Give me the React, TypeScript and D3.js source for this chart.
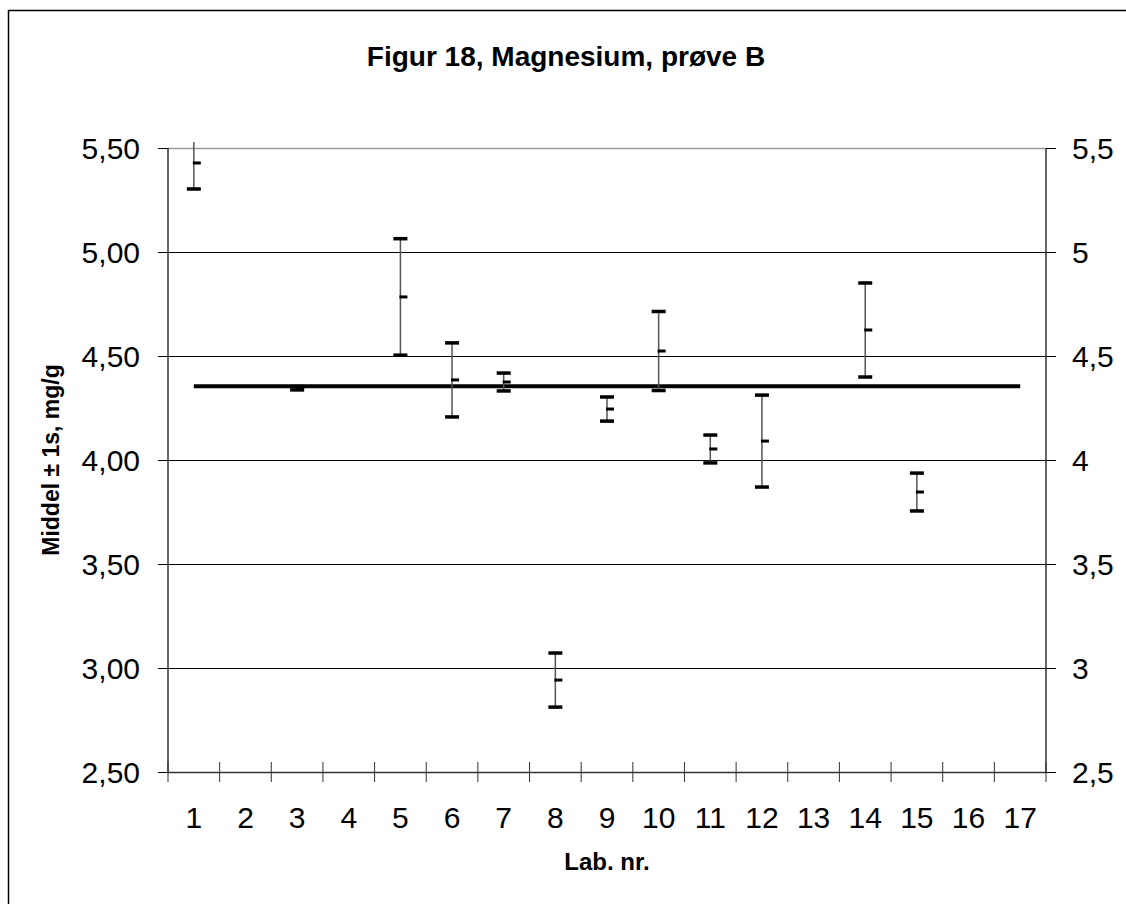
import React from "react";
import * as d3 from "d3";

const categories = ["1","2","3","4","5","6","7","8","9","10","11","12","13","14","15","16","17"];
const labs = ["1","3","5","6","7","8","9","10","11","12","14","15"];
const means = [5.428, 4.345, 4.784, 4.385, 4.375, 2.942, 4.245, 4.524, 4.053, 4.091, 4.625, 3.846];
const sds = [0.125, 0.008, 0.28, 0.178, 0.043, 0.13, 0.058, 0.19, 0.067, 0.221, 0.226, 0.091];
const refValue = 4.355;
const leftTicks = [2.5, 3.0, 3.5, 4.0, 4.5, 5.0, 5.5];

const FONT = "Arial, 'Liberation Sans', sans-serif";

export default function App() {
  const W = 1126, H = 904;
  const x0 = 168, x1 = 1046, yTop = 148, yBot = 772;
  const x = d3.scaleBand<string>().domain(categories).range([x0, x1]).padding(0);
  const y = d3.scaleLinear().domain([2.5, 5.5]).range([yBot, yTop]);
  const cx = (c: string) => (x(c) as number) + x.bandwidth() / 2;
  const cy = (v: number) => Math.round(y(v)) + 0.5;
  const fmtL = (v: number) => v.toFixed(2).replace(".", ",");
  const fmtR = (v: number) => String(v).replace(".", ",");
  const line = d3.line<string>().x((c) => cx(c)).y(() => y(refValue));

  return (
    <svg width={W} height={H} style={{ position: "absolute", left: 0, top: 0 }} fontFamily={FONT}>
      <defs>
        <clipPath id="plotclip">
          <rect x={x0} y={yTop - 6} width={x1 - x0} height={yBot - yTop + 6} />
        </clipPath>
      </defs>
      <rect x={0} y={0} width={W} height={H} fill="white" />
      <rect x={8.5} y={10.5} width={1300} height={1000} fill="white" stroke="black" strokeWidth={1.5} />
      <text x={566} y={66} textAnchor="middle" fontSize={28} fontWeight="bold">Figur 18, Magnesium, prøve B</text>

      {/* gridlines */}
      {leftTicks.filter((t) => t > 2.5 && t < 5.5).map((t) => (
        <line key={"g" + t} x1={x0} x2={x1} y1={cy(t)} y2={cy(t)} stroke="black" strokeWidth={1} />
      ))}
      <line x1={x0} x2={x1} y1={cy(5.5)} y2={cy(5.5)} stroke="#999" strokeWidth={1.5} />

      {/* left axis */}
      <line x1={x0} x2={x0} y1={yTop} y2={yBot} stroke="#333" strokeWidth={1.5} />
      {leftTicks.map((t) => (
        <g key={"l" + t}>
          <line x1={x0 - 10} x2={x0} y1={cy(t)} y2={cy(t)} stroke="black" strokeWidth={1} />
          <text x={140} y={y(t)} dy="0.36em" textAnchor="end" fontSize={30}>{fmtL(t)}</text>
        </g>
      ))}
      {/* right axis */}
      <line x1={x1} x2={x1} y1={yTop} y2={yBot} stroke="#333" strokeWidth={1.5} />
      {leftTicks.map((t) => (
        <g key={"r" + t}>
          <line x1={x1} x2={x1 + 10} y1={cy(t)} y2={cy(t)} stroke="black" strokeWidth={1} />
          <text x={1072} y={y(t)} dy="0.36em" textAnchor="start" fontSize={30}>{fmtR(t)}</text>
        </g>
      ))}
      {/* x axis */}
      <line x1={x0} x2={x1} y1={cy(2.5)} y2={cy(2.5)} stroke="#333" strokeWidth={1.5} />
      {categories.map((c) => (
        <line key={"t" + c} x1={x(c) as number} x2={x(c) as number} y1={yBot - 10} y2={yBot + 10} stroke="#333" strokeWidth={1} />
      ))}
      <line x1={x1} x2={x1} y1={yBot - 10} y2={yBot + 10} stroke="#333" strokeWidth={1} />
      {categories.map((c) => (
        <text key={"xl" + c} x={cx(c)} y={828} textAnchor="middle" fontSize={30}>{c}</text>
      ))}
      <text x={607} y={870} textAnchor="middle" fontSize={24} fontWeight="bold">Lab. nr.</text>
      <text transform={`translate(58.5,460) rotate(-90)`} textAnchor="middle" fontSize={23} fontWeight="bold">Middel ± 1s, mg/g</text>

      {/* reference line */}
      <path d={line(categories) as string} fill="none" stroke="black" strokeWidth={4} />

      {/* error bars */}
      <g clipPath="url(#plotclip)">
        {labs.map((c, i) => {
          const m = means[i], s = sds[i];
          const px = cx(c);
          return (
            <g key={"e" + c}>
              <line x1={px} x2={px} y1={y(m - s)} y2={y(m + s)} stroke="#555" strokeWidth={1.5} />
              <line x1={px - 7} x2={px + 7} y1={y(m + s)} y2={y(m + s)} stroke="black" strokeWidth={3.5} />
              <line x1={px - 7} x2={px + 7} y1={y(m - s)} y2={y(m - s)} stroke="black" strokeWidth={3.5} />
              <line x1={px - 1} x2={px + 7} y1={y(m)} y2={y(m)} stroke="black" strokeWidth={3} />
            </g>
          );
        })}
      </g>
    </svg>
  );
}
